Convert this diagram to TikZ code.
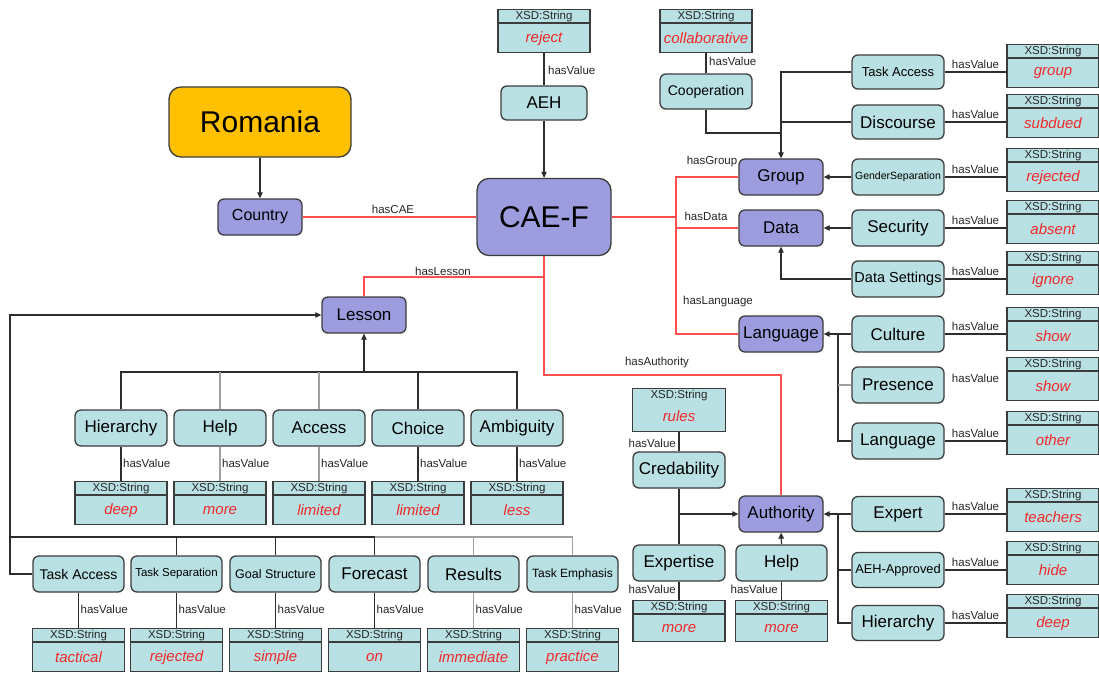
\documentclass[tikz,border=0pt]{standalone}
\usepackage{fontspec}
\setmainfont{Liberation Sans}
\usetikzlibrary{arrows.meta,calc}
\definecolor{purp}{RGB}{156,156,222}
\definecolor{tealc}{RGB}{185,225,228}
\definecolor{orangec}{RGB}{255,192,0}
\definecolor{bordc}{RGB}{60,60,60}
\definecolor{linec}{RGB}{45,45,45}
\definecolor{lgray}{RGB}{160,160,160}
\definecolor{redl}{RGB}{255,80,80}
\definecolor{redt}{RGB}{240,40,40}
\newcommand\fs[1]{\fontsize{#1}{#1}\selectfont}
\tikzset{
  bord/.style={draw=bordc, line width=1.3pt},
  basebox/.style={bord, rounded corners=6pt, inner sep=1pt, align=center, text=black},
  cls/.style={basebox, fill=purp, minimum width=84pt, minimum height=36pt, font=\fs{17}},
  prop/.style={basebox, fill=tealc, minimum width=92pt, minimum height=36pt, font=\fs{17}},
  country/.style={basebox, fill=orangec, rounded corners=12pt, minimum width=182pt, minimum height=70pt, font=\fs{30}},
  xsdbox/.style={bord, fill=tealc, minimum width=92pt, inner sep=0pt},
  xsdhead/.style={font=\fs{11.5}, inner sep=0pt, text=black!85},
  xsdval/.style={font=\fs{15}\itshape, inner sep=0pt, text=redt},
  lab/.style={font=\fs{11.5}, inner sep=0pt, text=black!85},
  ln/.style={draw=linec, line width=1.2pt},
  lg/.style={draw=lgray, line width=1.2pt},
  rl/.style={draw=redl, line width=1.2pt},
  arr/.style={ln, -{Triangle[length=6pt,width=5.5pt]}},
}
% name, center x, top y, height, value
\newcommand\xsd[5]{%
  \node[xsdbox, minimum height=#4pt, anchor=north] (#1) at (#2,#3) {};
  \draw[bord] ([yshift=-14pt]#1.north west) -- ([yshift=-14pt]#1.north east);
  \node[xsdhead] (#1h) at ([yshift=-7.5pt]#1.north) {XSD:String};
  \node[xsdval] (#1v) at ($(#1.south)!0.5!([yshift=-14pt]#1.north)$) {#5};
}
\begin{document}
\begin{tikzpicture}[x=1pt,y=-1pt]
\useasboundingbox (0,0) rectangle (1099,672);
\fill[white] (0,0) rectangle (1099,672);

% ---------- top / centre ----------
\node[country] (romania) at (260,122) {Romania};
\node[cls, font=\fs{16}] (countryc) at (260,217) {Country};
\node[cls, minimum width=134pt, minimum height=77pt, rounded corners=12pt, font=\fs{30}] (caef) at (544,217) {CAE-F};
\node[prop, minimum width=86pt, minimum height=34pt] (aeh) at (544,103) {AEH};
\xsd{xreject}{544}{9}{43}{reject}
\node[prop, minimum height=35pt, font=\fs{14}] (coop) at (706,91.5) {Cooperation};
\xsd{xcollab}{706}{9}{43}{collaborative}

% ---------- right: group / data / language ----------
\node[prop, minimum height=34pt, font=\fs{13}] (taskaccR) at (898,72) {Task Access};
\node[prop, minimum height=34pt] (discourse) at (898,122) {Discourse};
\node[prop, font=\fs{10.5}] (gender) at (898,177) {GenderSeparation};
\node[cls] (group) at (781,177) {Group};
\node[cls] (data) at (781,228) {Data};
\node[prop] (security) at (898,228) {Security};
\node[prop, font=\fs{14.5}] (dsettings) at (898,279) {Data Settings};
\node[cls] (language) at (781,334) {Language};
\node[prop] (culture) at (898,334) {Culture};
\node[prop] (presence) at (898,385) {Presence};
\node[prop] (languageT) at (898,441) {Language};

\xsd{xgroup}{1053}{44}{43}{group}
\xsd{xsubdued}{1053}{94}{43}{subdued}
\xsd{xrejected}{1053}{148}{43}{rejected}
\xsd{xabsent}{1053}{200}{43}{absent}
\xsd{xignore}{1053}{251}{43}{ignore}
\xsd{xshowa}{1053}{307}{43}{show}
\xsd{xshowb}{1053}{357}{43}{show}
\xsd{xother}{1053}{411}{43}{other}

% ---------- right: authority ----------
\node[cls] (authority) at (781,514) {Authority};
\node[prop, minimum height=35pt] (expert) at (898,514) {Expert};
\node[prop, minimum height=35pt, font=\fs{12.8}] (aehapp) at (898,570) {AEH-Approved};
\node[prop, minimum height=35pt] (hierR) at (898,623) {Hierarchy};
\xsd{xteachers}{1053}{488}{43}{teachers}
\xsd{xhide}{1053}{541}{43}{hide}
\xsd{xdeepR}{1053}{594}{43}{deep}

\node[prop] (cred) at (679,470) {Credability};
\node[xsdbox, minimum height=43pt, minimum width=93pt, anchor=north] (xrules) at (679,388) {};
\node[xsdhead] (xrulesh) at ([yshift=-8pt]xrules.north) {XSD:String};
\node[xsdval] (xrulesv) at ([yshift=-28pt]xrules.north) {rules};
\node[prop] (expertise) at (679,563) {Expertise};
\node[prop, minimum width=91pt] (helpR) at (781.5,563) {Help};
\xsd{xmoreA}{679}{600}{41}{more}
\xsd{xmoreB}{781.5}{600}{41}{more}

% ---------- lesson ----------
\node[cls] (lesson) at (364,315) {Lesson};
\node[prop] (hier) at (121,428) {Hierarchy};
\node[prop] (help) at (220,428) {Help};
\node[prop] (access) at (319,428) {Access};
\node[prop] (choice) at (418,428) {Choice};
\node[prop] (ambig) at (517,428) {Ambiguity};
\xsd{xdeep}{121}{481}{43}{deep}
\xsd{xmore}{220}{481}{43}{more}
\xsd{xlimA}{319}{481}{43}{limited}
\xsd{xlimB}{418}{481}{43}{limited}
\xsd{xless}{517}{481}{43}{less}

\node[prop, minimum width=91pt, font=\fs{14}] (taskaccB) at (78.5,574) {Task Access};
\node[prop, minimum width=91pt, font=\fs{11.5}] (tasksep) at (176.5,574) {Task Separation};
\node[prop, minimum width=91pt, font=\fs{12.5}] (goal) at (275.5,574) {Goal Structure};
\node[prop, minimum width=91pt] (forecast) at (374.5,574) {Forecast};
\node[prop, minimum width=91pt] (results) at (473.5,574) {Results};
\node[prop, minimum width=91pt, font=\fs{12}] (taskemph) at (572.5,574) {Task Emphasis};
\xsd{xtactical}{78.5}{628}{43}{tactical}
\xsd{xrejB}{176.5}{628}{43}{rejected}
\xsd{xsimple}{275.5}{628}{43}{simple}
\xsd{xon}{374.5}{628}{43}{on}
\xsd{ximm}{473.5}{628}{43}{immediate}
\xsd{xpract}{572.5}{628}{43}{practice}

% ---------- coordinates ----------
\coordinate (rb) at (676,217);
\coordinate (ra) at (544,375);
\coordinate (rlsn) at (544,277);
\coordinate (jc) at (781,133);
\coordinate (jl) at (838,334);
\coordinate (ja) at (838,514);
\coordinate (jcred) at (679,514);
\coordinate (lb) at (364,372);
\coordinate (ll) at (10,315);
\coordinate (bb) at (10,537);

% ---------- red relations ----------
\draw[rl] (countryc.east) -- (caef.west);
\draw[rl] (caef.east) -- (rb);
\draw[rl] (group.west) -| (rb);
\draw[rl] (data.west) -| (rb);
\draw[rl] (language.west) -| (rb);
\draw[rl] (caef.south) -- (ra) -| (authority.north);
\draw[rl] (rlsn) -| (lesson.north);
\node[lab] (lcae) at (393,209) {hasCAE};
\node[lab] (llesson) at (443,271) {hasLesson};
\node[lab] (lgroup) at (712,162) {hasGroup};
\node[lab] (ldata) at (706,216) {hasData};
\node[lab] (llang) at (718,302) {hasLanguage};
\node[lab] (lauth) at (657,363) {hasAuthority};

% ---------- black connectors: top ----------
\draw[arr] (romania.south) -- (countryc.north);
\draw[arr] (aeh.south) -- (caef.north);
\draw[ln] (xreject.south) -- (aeh.north);
\node[lab, anchor=west] (hv1) at (548,70) {hasValue};
\draw[ln] (xcollab.south) -- (coop.north);
\node[lab, anchor=west] (hv2) at (709,61) {hasValue};
\draw[ln] (coop.south) |- (jc);
\draw[arr] (taskaccR.west) -| (group.north);
\draw[ln] (discourse.west) -| (jc);
\draw[arr] (gender.west) -- (group.east);
\draw[arr] (security.west) -- (data.east);
\draw[arr] (dsettings.west) -| (data.south);
\draw[arr] (culture.west) -- (language.east);
\draw[ln] (languageT.west) -| (jl);
\draw[lg] (presence.west) -- (presence.west -| jl);

% right hasValue
\foreach \src/\dst/\nm in {taskaccR/xgroup/a, discourse/xsubdued/b, gender/xrejected/c, security/xabsent/d, dsettings/xignore/e, culture/xshowa/f, languageT/xother/g, expert/xteachers/h, aehapp/xhide/i, hierR/xdeepR/j}{
  \draw[ln] (\src.east) -- (\src.east -| \dst.west);
  \node[lab] (hvr\nm) at ($(\src.east)!0.5!(\src.east -| \dst.west) + (0,-8)$) {hasValue};
}
\node[lab] (hvrk) at (975.5,378) {hasValue};

% authority
\draw[arr] (expert.west) -- (authority.east);
\draw[ln] (aehapp.west) -| (ja);
\draw[ln] (hierR.west) -| (ja);
\draw[ln] (xrules.south) -- (cred.north);
\node[lab, anchor=east] (hv3) at (676,443) {hasValue};
\draw[ln] (cred.south) -- (expertise.north);
\draw[arr] (jcred) -- (authority.west);
\draw[arr] (helpR.north) -- (authority.south);
\draw[ln] (expertise.south) -- (xmoreA.north);
\draw[ln] (helpR.south) -- (xmoreB.north);
\node[lab, anchor=east] (hv4) at (676,589) {hasValue};
\node[lab, anchor=east] (hv5) at (778,589) {hasValue};

% lesson tree
\draw[arr] (lb) -- (lesson.south);
\draw[ln] (hier.north) |- (lb);
\draw[ln] (ambig.north) |- (lb);
\draw[lg] (help.north) -- (help.north |- lb);
\draw[lg] (access.north) -- (access.north |- lb);
\draw[ln] (choice.north) -- (choice.north |- lb);
\foreach \src/\dst/\st in {hier/xdeep/ln, help/xmore/lg, access/xlimA/lg, choice/xlimB/ln, ambig/xless/ln}{
  \draw[\st] (\src.south) -- (\dst.north);
  \node[lab, anchor=west] (hvm\src) at ($(\src.south)+(2,17)$) {hasValue};
}
\draw[arr] (taskaccB.west) -| (ll) -- (lesson.west);
\draw[ln] (forecast.north) |- (bb);
\draw[lg] (taskemph.north) |- (forecast.north |- bb);
\draw[lg] (results.north) -- (results.north |- bb);
\draw[ln] (tasksep.north) -- (tasksep.north |- bb);
\draw[ln] (goal.north) -- (goal.north |- bb);
\foreach \src/\dst/\st in {taskaccB/xtactical/ln, tasksep/xrejB/ln, goal/xsimple/ln, forecast/xon/ln, results/ximm/lg, taskemph/xpract/lg}{
  \draw[\st] (\src.south) -- (\dst.north);
  \node[lab, anchor=west] (hvb\src) at ($(\src.south)+(2,17)$) {hasValue};
}
\end{tikzpicture}
\end{document}
